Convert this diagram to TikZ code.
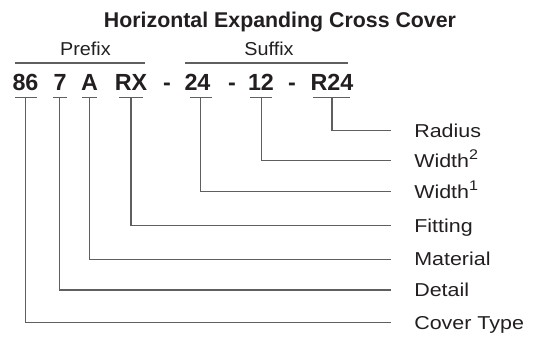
\documentclass[tikz,border=0pt]{standalone}
\usepackage{fontspec}
\setmainfont{Liberation Sans}
\newfontfamily\labfont[FakeStretch=1.15]{Liberation Sans}
\newfontfamily\grpfont[FakeStretch=1.06]{Liberation Sans}
\begin{document}
\begin{tikzpicture}[x=0.75pt,y=-0.75pt,
  txt/.style={inner sep=0pt,text=textc},
  ttl/.style={txt,font=\bfseries\fontsize{16}{16}\selectfont,anchor=base},
  code/.style={txt,font=\bfseries\fontsize{17.5}{17.5}\selectfont,anchor=base},
  grp/.style={txt,font=\grpfont\fontsize{14}{14}\selectfont,anchor=base},
  lab/.style={txt,font=\labfont\fontsize{14}{14}\selectfont,anchor=west,text height=10pt,text depth=0pt},
  ln/.style={draw=linec,line width=0.9pt},
  conn/.style={ln,shorten >=17pt}]
\definecolor{textc}{HTML}{231F20}
\definecolor{linec}{HTML}{5F5F5F}
\useasboundingbox (0,0) rectangle (540,337);
\newcommand{\sups}[1]{\raisebox{0.42em}{\fontsize{10.5}{10.5}\selectfont #1}}
% title
\node[ttl] (title) at (280,27.7) {Horizontal Expanding Cross Cover};
% group labels
\node[grp] (prefix) at (85.4,55.7) {Prefix};
\node[grp] (suffix) at (269,55.7) {Suffix};
\coordinate (pl) at (15,63); \coordinate (pr) at (145,63);
\coordinate (sl) at (185,63); \coordinate (sr) at (348,63);
\draw[ln] (pl) -- (pr);
\draw[ln] (sl) -- (sr);
% code parts
\node[code] (c86) at (25.5,90) {86};
\node[code] (c7) at (60,90) {7};
\node[code] (cA) at (89.5,90) {A};
\node[code] (cRX) at (131,90) {RX};
\node[code] (d1) at (167,90) {-};
\node[code] (c24) at (197.5,90) {24};
\node[code] (d2) at (232,90) {-};
\node[code] (c12) at (261,90) {12};
\node[code] (d3) at (292,90) {-};
\node[code] (cR24) at (332,90) {R24};
% bars
\coordinate (b86l) at (15,97.3); \coordinate (b86r) at (37,97.3); \coordinate (t86) at (25.7,97.3);
\coordinate (b7l) at (53,97.3); \coordinate (b7r) at (67,97.3); \coordinate (t7) at (59.3,97.3);
\coordinate (bAl) at (82,97.3); \coordinate (bAr) at (97,97.3); \coordinate (tA) at (89.3,97.3);
\coordinate (bRXl) at (119,97.3); \coordinate (bRXr) at (143,97.3); \coordinate (tRX) at (131,97.3);
\coordinate (b24l) at (190,97.3); \coordinate (b24r) at (212,97.3); \coordinate (t24) at (200.7,97.3);
\coordinate (b12l) at (250,97.3); \coordinate (b12r) at (272,97.3); \coordinate (t12) at (261.7,97.3);
\coordinate (bR24l) at (313,97.3); \coordinate (bR24r) at (350,97.3); \coordinate (tR24) at (332,97.3);
\foreach \b in {86,7,A,RX,24,12,R24} {\draw[ln] (b\b l) -- (b\b r);}
% labels
\node[lab] (radius) at (414,130.7) {Radius};
\node[lab] (width2) at (414,160.7) {Width\sups{2}};
\node[lab] (width1) at (414,191.7) {Width\sups{1}};
\node[lab] (fitting) at (414,225.7) {Fitting};
\node[lab] (material) at (414,259.3) {Material};
\node[lab] (detail) at (414,290) {Detail};
\node[lab] (covertype) at (414,322.7) {Cover Type};
% connectors
\draw[conn] (tR24) |- (radius.west);
\draw[conn] (t12) |- (width2.west);
\draw[conn] (t24) |- (width1.west);
\draw[conn] (tRX) |- (fitting.west);
\draw[conn] (tA) |- (material.west);
\draw[conn] (t7) |- (detail.west);
\draw[conn] (t86) |- (covertype.west);
\end{tikzpicture}
\end{document}
